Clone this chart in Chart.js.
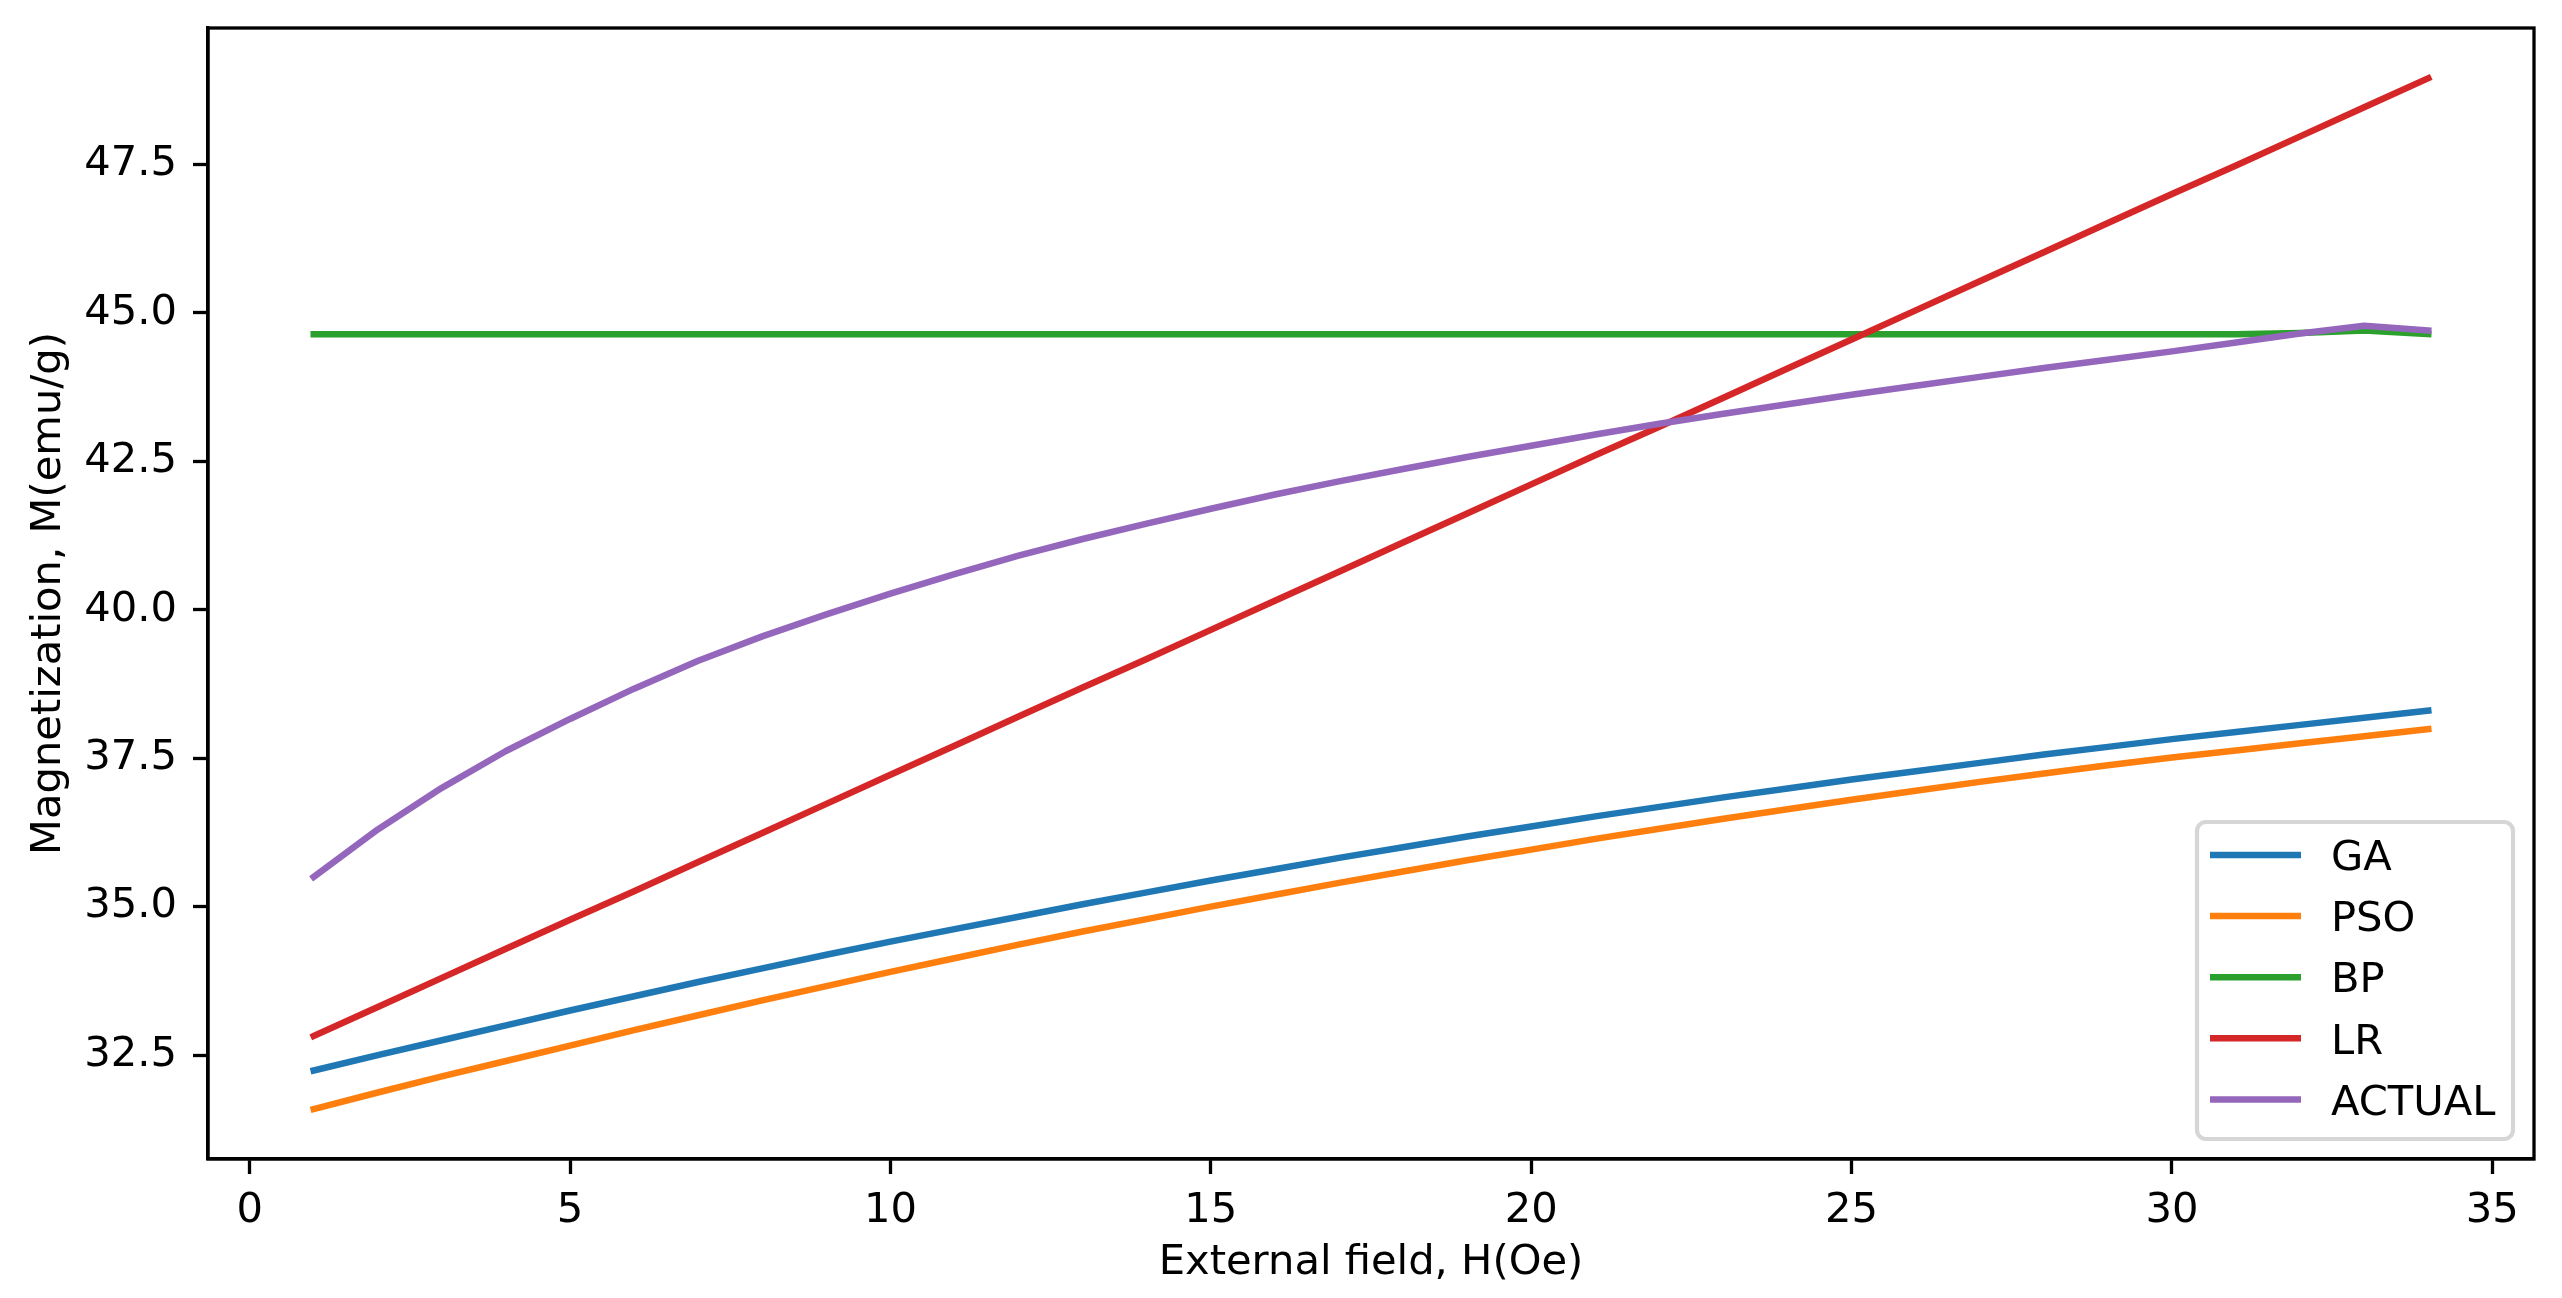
<!DOCTYPE html>
<html>
<head>
<meta charset="utf-8">
<script src="https://cdn.jsdelivr.net/npm/chart.js@4"></script>
<style>
  body { margin: 0; background: #fff; }
  canvas { display: block; }
</style>
</head>
<body>
<canvas id="myChart" width="2562" height="1298"></canvas>
<script>
let field = [1, 2, 3, 4, 5, 6, 7, 8, 9, 10, 11, 12, 13, 14, 15, 16, 17, 18, 19, 20,
             21, 22, 23, 24, 25, 26, 27, 28, 29, 30, 31, 32, 33, 34];

let gaValues = [32.24, 32.50, 32.75, 33.00, 33.25, 33.49, 33.73, 33.96, 34.19, 34.41,
                34.62, 34.83, 35.04, 35.24, 35.44, 35.63, 35.82, 36.00, 36.18, 36.35,
                36.52, 36.68, 36.84, 36.99, 37.14, 37.28, 37.42, 37.56, 37.69, 37.82,
                37.94, 38.06, 38.18, 38.30];
let psoValues = [31.59, 31.87, 32.14, 32.40, 32.66, 32.92, 33.17, 33.42, 33.66, 33.90,
                 34.13, 34.36, 34.58, 34.79, 35.00, 35.20, 35.40, 35.59, 35.78, 35.96,
                 36.14, 36.31, 36.48, 36.64, 36.80, 36.95, 37.10, 37.24, 37.38, 37.51,
                 37.63, 37.75, 37.87, 37.99];
let bpValues = [44.64, 44.64, 44.64, 44.64, 44.64, 44.64, 44.64, 44.64, 44.64, 44.64,
                44.64, 44.64, 44.64, 44.64, 44.64, 44.64, 44.64, 44.64, 44.64, 44.64,
                44.64, 44.64, 44.64, 44.64, 44.64, 44.64, 44.64, 44.64, 44.64, 44.64,
                44.64, 44.66, 44.70, 44.64];
let lrValues = [32.82, 33.31, 33.80, 34.29, 34.78, 35.26, 35.75, 36.24, 36.73, 37.22,
                37.71, 38.20, 38.69, 39.17, 39.66, 40.15, 40.64, 41.13, 41.62, 42.11,
                42.60, 43.08, 43.57, 44.06, 44.55, 45.04, 45.53, 46.02, 46.51, 47.00,
                47.48, 47.97, 48.46, 48.95];
let actualValues = [35.50, 36.30, 37.00, 37.62, 38.16, 38.67, 39.14, 39.55, 39.92, 40.27,
                    40.60, 40.91, 41.19, 41.45, 41.70, 41.94, 42.16, 42.37, 42.57, 42.76,
                    42.95, 43.13, 43.30, 43.46, 43.62, 43.77, 43.92, 44.07, 44.21, 44.35,
                    44.50, 44.65, 44.78, 44.70];

let seriesNames = ['GA', 'PSO', 'BP', 'LR', 'ACTUAL'];
let seriesValues = [gaValues, psoValues, bpValues, lrValues, actualValues];
let colorHex = ['#1f77b4', '#ff7f0e', '#2ca02c', '#d62728', '#9467bd'];

let xTicks = [0, 5, 10, 15, 20, 25, 30, 35];
let yTicks = [32.5, 35.0, 37.5, 40.0, 42.5, 45.0, 47.5];

let fontFamily = "'DejaVu Sans', sans-serif";
let fontSize = 41.67;

// axes frame (all four spines) drawn over the lines, like matplotlib
let framePlugin = {
    id: 'frame',
    afterDatasetsDraw: (chart) => {
        let a = chart.chartArea;
        let c = chart.ctx;
        c.save();
        c.strokeStyle = '#000';
        c.lineWidth = 3.3;
        c.strokeRect(a.left, a.top, a.right - a.left, a.bottom - a.top);
        c.restore();
    }
};

// legend box in the lower right corner of the axes
let legendPlugin = {
    id: 'boxLegend',
    afterDraw: (chart) => {
        let c = chart.ctx;
        let sets = chart.data.datasets;
        let x0 = 2197, y0 = 822, w = 316, h = 317, r = 9;
        c.save();
        c.beginPath();
        c.roundRect(x0, y0, w, h, r);
        c.fillStyle = 'rgba(255,255,255,0.8)';
        c.fill();
        c.lineWidth = 4.2;
        c.strokeStyle = '#d6d6d6';
        c.stroke();
        c.font = fontSize + 'px ' + fontFamily;
        c.textBaseline = 'alphabetic';
        c.textAlign = 'left';
        sets.forEach((ds, i) => {
            let y = 855 + i * 61.1;
            c.beginPath();
            c.moveTo(2210, y);
            c.lineTo(2301, y);
            c.strokeStyle = ds.borderColor;
            c.lineWidth = 6.5;
            c.lineCap = 'butt';
            c.stroke();
            c.fillStyle = '#000';
            c.fillText(ds.label, 2331, y + 15.2);
        });
        c.restore();
    }
};

let ctx = document.getElementById('myChart');

let myChart = new Chart(ctx, {
    type: 'line',
    data: {
        datasets: seriesNames.map((name, i) => ({
            label: name,
            data: field.map((x, j) => ({ x: x, y: seriesValues[i][j] })),
            borderColor: colorHex[i],
            backgroundColor: colorHex[i],
            borderWidth: 6.5,
            borderCapStyle: 'square',
            borderJoinStyle: 'round',
            pointRadius: 0,
            tension: 0,
            fill: false,
            order: seriesNames.length - i
        }))
    },
    options: {
        responsive: false,
        animation: false,
        devicePixelRatio: 1,
        layout: {
            padding: { left: 0, right: 28, top: 28, bottom: 0 }
        },
        plugins: {
            legend: { display: false },
            tooltip: { enabled: false }
        },
        scales: {
            x: {
                type: 'linear',
                min: -0.65,
                max: 35.65,
                afterBuildTicks: (scale) => {
                    scale.ticks = xTicks.map(v => ({ value: v }));
                },
                afterFit: (scale) => {
                    scale.height = 139;
                    scale.paddingLeft = 0;
                    scale.paddingRight = 0;
                },
                grid: {
                    drawOnChartArea: false,
                    drawTicks: true,
                    tickLength: 15,
                    tickWidth: 3.3,
                    tickColor: '#000'
                },
                border: { display: true, color: '#000', width: 3.3 },
                ticks: {
                    color: '#000',
                    padding: 12,
                    maxRotation: 0,
                    autoSkip: false,
                    font: { family: fontFamily, size: fontSize },
                    callback: (value) => String(value)
                },
                title: {
                    display: true,
                    text: 'External field, H(Oe)',
                    color: '#000',
                    padding: { top: 0, bottom: 10 },
                    font: { family: fontFamily, size: fontSize }
                }
            },
            y: {
                type: 'linear',
                min: 30.75,
                max: 49.795,
                afterBuildTicks: (scale) => {
                    scale.ticks = yTicks.map(v => ({ value: v }));
                },
                afterFit: (scale) => {
                    scale.width = 208;
                    scale.paddingTop = 0;
                    scale.paddingBottom = 0;
                },
                grid: {
                    drawOnChartArea: false,
                    drawTicks: true,
                    tickLength: 15,
                    tickWidth: 3.3,
                    tickColor: '#000'
                },
                border: { display: true, color: '#000', width: 3.3 },
                ticks: {
                    color: '#000',
                    padding: 16,
                    autoSkip: false,
                    font: { family: fontFamily, size: fontSize },
                    callback: (value) => Number(value).toFixed(1)
                },
                title: {
                    display: true,
                    text: 'Magnetization, M(emu/g)',
                    color: '#000',
                    padding: { top: 24, bottom: 0 },
                    font: { family: fontFamily, size: fontSize }
                }
            }
        }
    },
    plugins: [framePlugin, legendPlugin]
});
</script>
</body>
</html>
